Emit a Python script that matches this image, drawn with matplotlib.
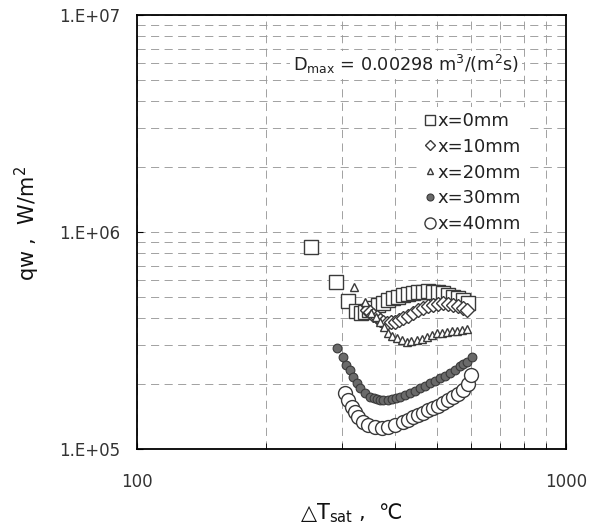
import matplotlib
matplotlib.use("Agg")
import matplotlib.pyplot as plt
from matplotlib.ticker import LogLocator, NullFormatter, FixedLocator, FixedFormatter

plt.rcParams['font.family'] = ['DejaVu Sans', 'Noto Sans CJK KR']
plt.rcParams['mathtext.fontset'] = 'dejavusans'

# ---- data ----
x0_dt = [254, 291, 311, 324, 333, 340, 347, 355, 364, 374, 385, 395, 406, 417, 428, 440, 452, 464, 477, 490, 503, 517, 531, 545, 560, 575, 591]
x0_q = [8.56e5, 5.90e5, 4.81e5, 4.33e5, 4.23e5, 4.28e5, 4.37e5, 4.46e5, 4.59e5, 4.71e5, 4.84e5, 4.96e5, 5.04e5, 5.12e5, 5.18e5, 5.24e5, 5.28e5, 5.31e5, 5.32e5, 5.31e5, 5.28e5, 5.24e5, 5.14e5, 5.03e5, 4.95e5, 4.86e5, 4.71e5]

x10_dt = [343, 349, 355, 362, 369, 375, 382, 391, 400, 408, 417, 428, 440, 452, 464, 477, 490, 503, 517, 531, 545, 560, 575, 588]
x10_q = [4.37e5, 4.26e5, 4.15e5, 4.04e5, 3.93e5, 3.86e5, 3.81e5, 3.83e5, 3.86e5, 3.93e5, 4.02e5, 4.12e5, 4.23e5, 4.35e5, 4.46e5, 4.54e5, 4.61e5, 4.66e5, 4.71e5, 4.67e5, 4.61e5, 4.54e5, 4.46e5, 4.37e5]

x20_dt = [320, 340, 352, 361, 369, 377, 385, 393, 403, 414, 425, 436, 449, 461, 473, 486, 500, 513, 527, 541, 556, 571, 587]
x20_q = [5.60e5, 4.77e5, 4.23e5, 4.06e5, 3.86e5, 3.65e5, 3.42e5, 3.33e5, 3.25e5, 3.18e5, 3.12e5, 3.15e5, 3.18e5, 3.23e5, 3.29e5, 3.35e5, 3.41e5, 3.44e5, 3.47e5, 3.49e5, 3.50e5, 3.53e5, 3.56e5]

x30_dt = [293, 302, 307, 314, 319, 325, 331, 340, 349, 356, 362, 369, 375, 384, 392, 401, 410, 421, 433, 445, 457, 469, 482, 495, 509, 522, 537, 551, 566, 575, 587, 603]
x30_q = [2.91e5, 2.66e5, 2.44e5, 2.31e5, 2.15e5, 2.01e5, 1.905e5, 1.806e5, 1.742e5, 1.718e5, 1.694e5, 1.686e5, 1.682e5, 1.686e5, 1.694e5, 1.718e5, 1.742e5, 1.774e5, 1.817e5, 1.86e5, 1.905e5, 1.951e5, 2.01e5, 2.058e5, 2.12e5, 2.17e5, 2.23e5, 2.31e5, 2.40e5, 2.465e5, 2.53e5, 2.66e5]

x40_dt = [305, 311, 317, 322, 328, 337, 346, 359, 372, 385, 400, 418, 428, 441, 452, 465, 477, 491, 503, 518, 531, 546, 560, 576, 590, 600]
x40_q = [1.806e5, 1.682e5, 1.567e5, 1.485e5, 1.409e5, 1.336e5, 1.29e5, 1.259e5, 1.246e5, 1.259e5, 1.29e5, 1.336e5, 1.365e5, 1.40e5, 1.434e5, 1.47e5, 1.505e5, 1.54e5, 1.578e5, 1.624e5, 1.682e5, 1.742e5, 1.802e5, 1.87e5, 2.0e5, 2.19e5]

series_labels = ["x=0mm", "x=10mm", "x=20mm", "x=30mm", "x=40mm"]
x_ticks = [100, 1000]
x_ticklabels = ["100", "1000"]
y_ticks = [1e5, 1e6, 1e7]
y_ticklabels = ["1.E+05", "1.E+06", "1.E+07"]

# ---- figure ----
fig = plt.figure(figsize=(5.89, 5.27), dpi=100)
ax = fig.add_axes([137/589, 78/527, 429/589, 434/527])
ax.set_xscale('log')
ax.set_yscale('log')
ax.set_xlim(100, 1000)
ax.set_ylim(1e5, 1e7)

edge = '#3a3a3a'
ax.plot(x0_dt, x0_q, ls='none', marker='s', ms=9.4, mfc='white', mec=edge, mew=1.0, label=series_labels[0])
ax.plot(x10_dt, x10_q, ls='none', marker='D', ms=6.8, mfc='white', mec=edge, mew=1.0, label=series_labels[1])
ax.plot(x20_dt, x20_q, ls='none', marker='^', ms=6.0, mfc='white', mec=edge, mew=1.0, label=series_labels[2])
ax.plot(x30_dt, x30_q, ls='none', marker='o', ms=6.3, mfc='#6a6a6a', mec='#3a3a3a', mew=0.8, label=series_labels[3])
ax.plot(x40_dt, x40_q, ls='none', marker='o', ms=10, mfc='white', mec=edge, mew=1.0, label=series_labels[4])

# grid
gkw = dict(color='#9a9a9a', lw=0.65, ls=(0, (9, 6)))
ax.grid(True, which='both', axis='both', **gkw)
ax.set_axisbelow(True)

ax.xaxis.set_major_locator(FixedLocator(x_ticks))
ax.xaxis.set_major_formatter(FixedFormatter(x_ticklabels))
ax.xaxis.set_minor_locator(LogLocator(base=10, subs=range(2, 10)))
ax.xaxis.set_minor_formatter(NullFormatter())
ax.yaxis.set_major_locator(FixedLocator(y_ticks))
ax.yaxis.set_major_formatter(FixedFormatter(y_ticklabels))
ax.yaxis.set_minor_locator(LogLocator(base=10, subs=range(2, 10)))
ax.yaxis.set_minor_formatter(NullFormatter())

ax.tick_params(axis='x', which='major', direction='in', length=4, pad=17, labelsize=12)
ax.tick_params(axis='x', which='minor', direction='in', length=4)
ax.tick_params(axis='y', which='major', direction='in', length=4, pad=12, labelsize=12)
ax.tick_params(axis='y', which='minor', direction='in', length=0)
for lab in ax.get_xticklabels() + ax.get_yticklabels():
    lab.set_color('#333333')

for sp in ax.spines.values():
    sp.set_linewidth(1.3)
    sp.set_color('black')

# annotation
ax.text(0.364, 0.885, r"D$_{\mathrm{max}}$ = 0.00298 m$^3$/(m$^2$s)", transform=ax.transAxes,
        ha='left', va='center', fontsize=12.7, color='#222222',
        bbox=dict(facecolor='white', edgecolor='none', pad=2))

leg = ax.legend(loc='upper left', bbox_to_anchor=(0.655, 0.789), frameon=True, fontsize=13,
                handlelength=0.7, handletextpad=0.1, labelspacing=0.43, borderpad=0.3,
                markerscale=0.8, borderaxespad=0)
leg.get_frame().set_facecolor('white')
leg.get_frame().set_edgecolor('none')
leg.get_frame().set_alpha(1)
for t in leg.get_texts():
    t.set_color('#222222')

fig.text(351/589, 1 - 513/527, r"△T$_{\mathrm{sat}}$ ,  ℃", ha='center', va='center', fontsize=15, color='#111111')
fig.text(27/589, 1 - 224/527, r"qw ,  W/m$^2$", ha='center', va='center', rotation=90, fontsize=15, color='#111111')

fig.savefig("out.png", dpi=100)
